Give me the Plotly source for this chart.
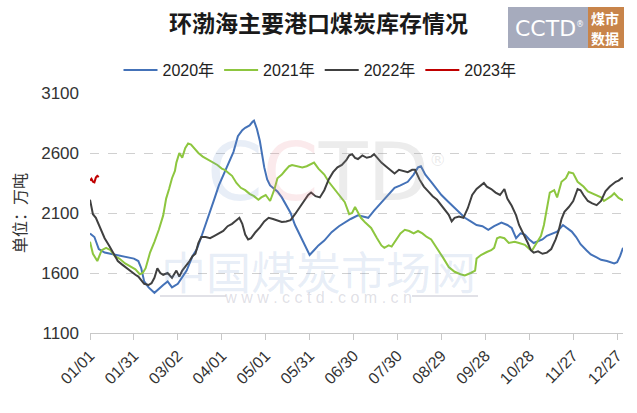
import plotly.graph_objects as go

# ---------------- data ----------------
tick_days = [0, 30, 60, 90, 120, 150, 180, 210, 240, 270, 300, 330, 360]
tick_labels = ["01/01", "01/31", "03/02", "04/01", "05/01", "05/31", "06/30",
               "07/30", "08/29", "09/28", "10/28", "11/27", "12/27"]
y_ticks = [1100, 1600, 2100, 2600, 3100]

days_2020 = [0, 3, 6, 10, 14, 18, 22, 26, 30, 33, 35, 37, 40, 44, 47, 50, 53, 56, 60, 63,
             66, 70, 73, 76, 80, 85, 88, 92, 95, 98, 101, 104, 106, 109, 111, 112, 114, 116,
             119, 121, 123, 126, 128, 131, 133, 137, 140, 144, 147, 150, 153, 156, 160, 165,
             170, 174, 178, 183, 187, 190, 194, 199, 204, 208, 212, 217, 221, 224, 226, 229,
             233, 237, 240, 245, 249, 253, 256, 260, 264, 268, 272, 276, 281, 285, 288, 291,
             294, 297, 300, 303, 305, 309, 312, 316, 319, 323, 326, 329, 332, 335, 339, 342,
             346, 349, 353, 356, 358, 360, 362, 364]
vals_2020 = [1930, 1900, 1800, 1770, 1760, 1750, 1745, 1730, 1720, 1700, 1640, 1530, 1480,
             1435, 1470, 1500, 1530, 1480, 1510, 1560, 1620, 1740, 1800, 1900, 2050, 2220,
             2330, 2440, 2530, 2610, 2740, 2790, 2810, 2830, 2860, 2870, 2800, 2700, 2480,
             2380, 2330, 2300, 2280, 2230, 2190, 2100, 2000, 1900, 1830, 1750, 1790, 1830,
             1870, 1940, 1990, 2020, 2050, 2080, 2070, 2060, 2120, 2190, 2260, 2310, 2330,
             2360, 2420, 2480, 2490, 2420, 2360, 2300, 2250, 2190, 2140, 2090, 2060, 2030,
             2000, 1990, 1960, 1990, 2020, 2000, 1975, 1890, 1930, 1920, 1880, 1850, 1860,
             1880, 1910, 1930, 1945, 2000, 1970, 1945, 1900, 1840, 1790, 1755, 1730, 1710,
             1700, 1690, 1680, 1690, 1740, 1810]

days_2021 = [0, 2, 5, 8, 11, 14, 17, 20, 24, 28, 31, 34, 36, 38, 41, 44, 47, 50, 52, 54, 56,
             58, 59, 61, 63, 65, 67, 69, 72, 74, 77, 80, 84, 87, 90, 92, 95, 97, 100, 103,
             106, 109, 112, 115, 117, 120, 123, 126, 128, 131, 133, 136, 138, 142, 145, 148,
             151, 153, 156, 160, 163, 167, 171, 174, 177, 179, 181, 183, 185, 188, 192, 196,
             199, 201, 204, 206, 209, 212, 215, 218, 221, 224, 227, 230, 233, 237, 241, 245,
             249, 253, 256, 260, 263, 264, 267, 271, 274, 276, 278, 280, 283, 286, 290, 293,
             297, 300, 302, 305, 308, 310, 312, 314, 317, 319, 322, 325, 327, 330, 333, 337,
             340, 342, 346, 349, 351, 354, 356, 358, 361, 364]
vals_2021 = [1860, 1760, 1700, 1790, 1810, 1790, 1740, 1720, 1680, 1650, 1630, 1590, 1600,
             1640, 1770, 1860, 1960, 2080, 2220, 2300, 2390, 2450, 2520, 2600, 2560, 2640,
             2680, 2670, 2630, 2600, 2570, 2550, 2520, 2500, 2470, 2460, 2430, 2410, 2350,
             2310, 2290, 2260, 2240, 2210, 2230, 2250, 2200, 2300, 2390, 2420, 2450, 2490,
             2500, 2490, 2480, 2490, 2510, 2520, 2470, 2420, 2360, 2300, 2240, 2190, 2090,
             2100, 2150, 2100, 2060, 2020, 1975, 1890, 1830, 1810, 1830, 1820, 1880, 1930,
             1960, 1950, 1930, 1950, 1930, 1900, 1880, 1810, 1730, 1650, 1610, 1590, 1580,
             1600, 1620, 1720, 1750, 1775, 1790, 1810, 1890, 1900, 1890, 1850, 1860, 1850,
             1835, 1800, 1790, 1850, 1910, 2000, 2150, 2270, 2290, 2230, 2360, 2390, 2440,
             2430, 2360, 2320, 2280, 2270, 2250, 2230, 2200, 2220, 2240, 2265, 2225, 2205]

days_2022 = [0, 2, 4, 6, 8, 10, 13, 16, 19, 22, 25, 28, 31, 33, 35, 37, 40, 42, 44, 46, 48,
             50, 53, 56, 59, 61, 63, 65, 68, 70, 72, 74, 76, 79, 82, 85, 88, 91, 94, 97, 100,
             102, 104, 106, 108, 110, 113, 116, 119, 122, 125, 128, 131, 134, 137, 140, 143,
             146, 149, 151, 154, 157, 160, 163, 166, 169, 172, 175, 177, 179, 181, 183, 186,
             189, 192, 194, 197, 199, 202, 205, 208, 211, 214, 217, 220, 222, 225, 228, 231,
             234, 237, 240, 243, 245, 247, 249, 252, 255, 258, 261, 264, 267, 269, 271, 274,
             277, 280, 283, 285, 288, 291, 293, 296, 299, 301, 303, 306, 309, 312, 315, 318,
             320, 322, 324, 327, 330, 333, 335, 337, 340, 343, 346, 349, 352, 355, 357, 359,
             361, 363, 364]
vals_2022 = [2210, 2090, 2060, 2000, 1950, 1890, 1830, 1760, 1700, 1670, 1640, 1610, 1585,
             1570, 1540, 1510, 1500, 1515, 1560, 1640, 1600, 1585, 1600, 1560, 1620, 1570,
             1620, 1650, 1700, 1740, 1760, 1850, 1900, 1900, 1890, 1910, 1930, 1950, 1990,
             2010, 2040, 2060, 2010, 1920, 1880, 1890, 1940, 1980, 2030, 2060, 2050, 2040,
             2025, 2030, 2040, 2090, 2140, 2200, 2250, 2270, 2240, 2230, 2290, 2380, 2440,
             2480, 2500, 2540, 2580, 2590, 2560, 2550, 2580, 2560, 2570, 2590, 2550, 2520,
             2490, 2460, 2430, 2460, 2450, 2440, 2460, 2460, 2380, 2320, 2280, 2240, 2210,
             2160, 2110, 2085, 2030, 2060, 2070, 2060, 2140, 2250, 2300, 2330, 2350, 2320,
             2300, 2270, 2250, 2300, 2220, 2160, 2080, 2000, 1930, 1850, 1790, 1770, 1780,
             1760, 1770, 1800, 1880, 1950, 2050, 2110, 2150, 2200, 2300, 2290, 2250, 2200,
             2180, 2165, 2200, 2280, 2320, 2340, 2360, 2370, 2390, 2390]

days_2023 = [0, 1, 2, 3, 4, 5, 6]
vals_2023 = [2370, 2385, 2360, 2355, 2395, 2410, 2400]

series_names = ["2020年", "2021年", "2022年", "2023年"]
series_colors = ["#4472B8", "#8DC63F", "#404040", "#C00000"]

# ---------------- figure ----------------
W, H = 637, 413
ML, MR, MT, MB = 90, 14, 93, 80
pw, ph = W - ML - MR, H - MT - MB


def px(x, y):
    """pixel position (from page top-left) -> paper coords"""
    return (x - ML) / pw, (H - MB - y) / ph


FONT = "Liberation Sans, Noto Sans CJK SC, sans-serif"
CJK = "Noto Sans CJK SC"

fig = go.Figure()
for name, xs, ys, col in zip(series_names,
                             [days_2020, days_2021, days_2022, days_2023],
                             [vals_2020, vals_2021, vals_2022, vals_2023],
                             series_colors):
    fig.add_trace(go.Scatter(x=xs, y=ys, mode="lines", name=name,
                             line=dict(color=col, width=2)))


def ann(text, x, y, size, color, family=FONT, **kw):
    xp, yp = px(x, y)
    d = dict(text=text, x=xp, y=yp, xref="paper", yref="paper", showarrow=False,
             xanchor="center", yanchor="middle",
             font=dict(size=size, color=color, family=family))
    d.update(kw)
    return d


logo_mark = ("<span style='color:rgba(110,150,205,0.40)'>C</span>"
             "<span style='color:rgba(230,120,130,0.38)'>C</span>"
             "<span style='color:rgba(150,150,150,0.45)'>TD</span>"
             "<sup><span style='font-size:17px;color:rgba(150,150,150,0.5)'>®</span></sup>")

site_mark = ("<span style='font-size:45px;font-family:Noto Sans CJK SC;"
             "color:rgba(110,150,205,0.32)'>中国煤炭市场网</span><br>"
             "<span style='font-size:16px;color:rgba(140,140,160,0.55)'>"
             "w w w . c c t d . c o m . c n</span>")

annotations = [
    # watermark
    ann(logo_mark, 326, 172, 80, "rgba(150,150,150,0.4)", family="DejaVu Sans"),
    ann(site_mark, 318, 272, 10, "rgba(140,140,160,0.5)"),
    # title
    ann("<b>环渤海主要港口煤炭库存情况</b>", 318, 22, 23, "#1a1a1a", family=CJK),
    # y-axis title
    ann("单位：万吨", 19, 213, 16, "#333333", family=CJK, textangle=-90),
    # logo texts
    ann("CCTD<sup><span style='font-size:8px'>®</span></sup>", 549, 28, 22, "white",
        family="DejaVu Sans"),
    ann("<b>煤市</b>", 605, 18, 14, "white", family=CJK),
    ann("<b>数据</b>", 605, 38, 14, "white", family=CJK),
]

shapes = []


def rect(x0, y0, x1, y1, color):
    a0, b0 = px(x0, y0)
    a1, b1 = px(x1, y1)
    return dict(type="rect", xref="paper", yref="paper", x0=a0, x1=a1, y0=b1, y1=b0,
                fillcolor=color, line=dict(width=0), layer="below")


shapes.append(rect(508, 7, 588, 48, "#A6ABBD"))
shapes.append(rect(588, 7, 624, 48, "#C8844A"))
# watermark lines beside url
for (a, b) in [(160, 226), (412, 478)]:
    xa, ya = px(a, 296)
    xb, _ = px(b, 296)
    shapes.append(dict(type="line", xref="paper", yref="paper", x0=xa, x1=xb, y0=ya, y1=ya,
                       line=dict(color="rgba(140,140,160,0.35)", width=1.5)))

lx, ly = px(320, 70)
fig.update_layout(
    width=W, height=H,
    margin=dict(l=ML, r=MR, t=MT, b=MB, autoexpand=False),
    paper_bgcolor="white", plot_bgcolor="white",
    font=dict(family=FONT, color="#333333", size=14),
    showlegend=True,
    legend=dict(orientation="h", x=lx, xanchor="center", y=ly, yanchor="middle",
                font=dict(size=16, color="#222222"), itemwidth=34,
                bgcolor="rgba(0,0,0,0)"),
    annotations=annotations,
    shapes=shapes,
    xaxis=dict(range=[0, 364], tickmode="array", tickvals=tick_days, ticktext=tick_labels,
               tickangle=-45, showgrid=False, showline=True, linecolor="#C8C8C8",
               linewidth=1, ticks="outside", ticklen=6, tickcolor="#C8C8C8",
               tickfont=dict(size=16, color="#333333"), zeroline=False),
    yaxis=dict(range=[1100, 3100], tickmode="array", tickvals=y_ticks,
               showgrid=True, gridcolor="#D0D0D0", griddash="dash", gridwidth=1,
               showline=False, zeroline=False, ticks="", ticklabelstandoff=10,
               tickfont=dict(size=17, color="#333333")),
)

fig.write_html("out.html", config={"displayModeBar": False},
               post_script="document.body.style.margin='0px';document.body.style.padding='0px';")
